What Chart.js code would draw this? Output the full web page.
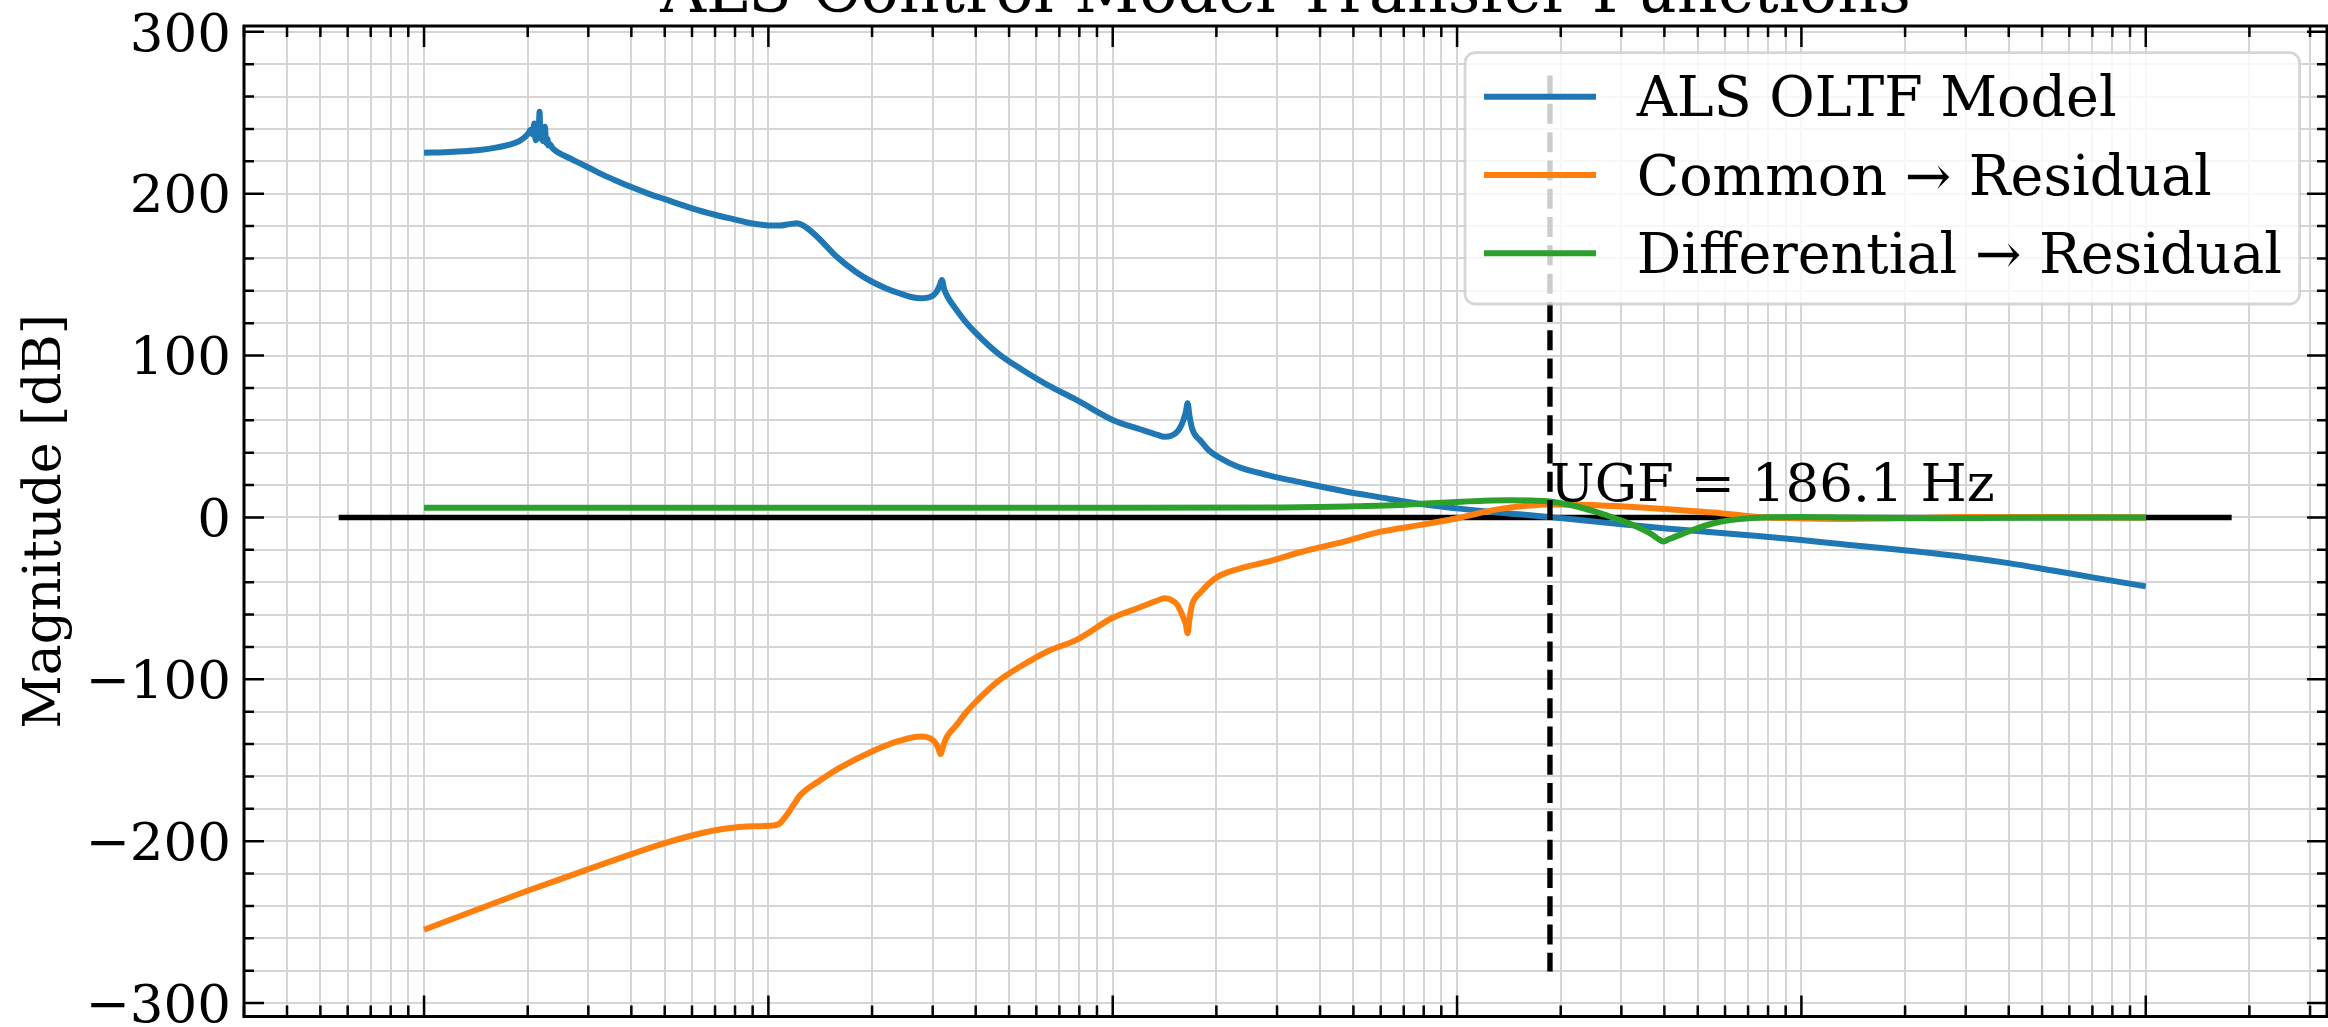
<!DOCTYPE html>
<html><head><meta charset="utf-8">
<script src="https://cdn.jsdelivr.net/npm/chart.js@4.4.1/dist/chart.umd.min.js"></script>
<style>html,body{margin:0;padding:0;background:#fff;overflow:hidden}canvas{display:block}</style>
</head><body>
<canvas id="c" width="2328" height="1027"></canvas>
<script>
// ---------------- data ----------------
const chartTitle = 'ALS Control Model Transfer Functions';
const yAxisTitle = 'Magnitude [dB]';
const seriesLabels = ['ALS OLTF Model', 'Common \u2192 Residual', 'Differential \u2192 Residual'];

const oltfFreq = [0.1,0.115,0.13,0.145,0.16,0.172,0.182,0.19,0.196,0.201,0.204,0.207,0.209,0.211,0.213,0.215,0.2165,0.218,0.22,0.2215,0.223,0.2245,0.226,0.228,0.2295,0.232,0.236,0.243,0.255,0.27,0.284,0.3,0.33,0.36,0.4,0.45,0.5,0.6,0.7,0.8,0.86,0.93,1.0,1.08,1.15,1.21,1.25,1.3,1.4,1.57,1.8,2.0,2.2,2.4,2.6,2.77,2.9,3.0,3.08,3.14,3.19,3.24,3.32,3.51,3.75,4.0,4.35,4.7,5.5,6.5,7.85,10,12,13.5,14.1,14.8,15.4,15.9,16.3,16.5,16.7,17.0,17.4,17.9,19,20.2,23,28.2,35,47,60,78.6,100,131,160,186.1,220,260,330,405,550,733,1000,1300,1618,2200,3050,4000,5310,7000,10000];
const oltfMag = [225.3,225.6,226.2,227.0,228.3,229.6,231.1,232.8,234.8,237.3,239.5,236.5,243.4,233.0,240.5,236.0,250.6,234.0,239.5,232.5,237.0,241.3,231.5,234.0,229.8,230.5,228.2,225.9,223.6,221.0,218.7,216.2,211.8,208.2,204.1,199.9,196.6,191.0,187.0,184.0,182.4,181.1,180.4,180.3,181.2,181.7,180.8,178.5,172.5,161.5,151.5,145.6,141.5,138.5,136.2,135.4,135.8,137.0,139.5,143.0,146.7,141.0,136.0,128.5,120.5,114.0,106.5,100.4,90.8,81.6,72.6,60.2,54.5,51.0,49.9,50.5,53.0,58.0,65.0,70.5,63.0,55.0,50.5,47.9,41.5,37.5,31.5,26.2,21.8,16.2,12.4,8.3,5.6,3.0,1.5,0.2,-1.3,-2.9,-5.0,-6.8,-9.2,-11.3,-14.0,-16.4,-18.4,-21.2,-24.7,-28.2,-32.6,-37.0,-42.6];

const commonFreq = [0.1,0.15,0.197,0.3,0.4,0.5,0.6,0.7,0.8,0.9,1.0,1.07,1.12,1.18,1.24,1.4,1.6,2.05,2.4,2.77,2.95,3.05,3.12,3.16,3.22,3.3,3.51,3.75,4.0,4.35,4.7,5.5,6.5,7.85,10,12,13.5,14.1,14.8,15.4,15.9,16.3,16.5,16.7,17.0,17.4,17.9,19,20.2,23,28.2,35,47,60,68.3,78.6,100,131,160,186.1,230,333,450,556,733,1000,1327,2000,3000,5000,10000];
const commonMag = [-254.7,-240.5,-231.1,-217.3,-208.0,-201.2,-196.5,-193.2,-191.5,-190.8,-190.5,-189.5,-185.0,-178.0,-171.4,-163.0,-155.0,-143.5,-138.0,-135.4,-136.5,-139.0,-143.0,-146.2,-141.0,-135.5,-128.5,-120.5,-114.0,-106.5,-100.4,-91.0,-82.5,-75.6,-62.0,-55.5,-51.3,-49.9,-51.0,-54.0,-60.0,-66.0,-71.5,-63.0,-54.0,-49.5,-46.8,-41.0,-36.6,-32.0,-27.3,-21.5,-14.9,-8.8,-6.7,-4.6,-0.5,5.0,7.2,8.0,7.8,6.3,4.5,3.0,0.5,-0.6,-0.9,-0.5,0.2,0.2,0.0];

const diffFreq = [0.1,1,10,30,39.4,50,68.3,78.6,100,120,141.6,165,186.1,210,230,252,290,333,365,385,397,415,456,500,556,650,794,1000,1327,2404,4000,10000];
const diffMag = [6.0,6.0,6.0,6.2,6.4,6.9,7.7,8.5,9.6,10.3,10.6,10.4,9.9,8.0,6.0,3.6,-0.8,-5.7,-10.0,-13.5,-14.9,-13.2,-9.8,-6.5,-3.6,-1.2,0.1,0.3,0.0,-0.5,-0.2,0.0];

const zeroLineFreq = [0.0565, 17760];
const zeroLineMag = [0, 0];

const ugfFreq = 186.1;
const ugfLineMag = [273, -280.5];
const ugfLabel = 'UGF = 186.1 Hz';
const ugfLabelMag = 10;

const xRange = [0.03, 33600];
const yRange = [-308.3, 303.6];
const yStep = 20;
const yLabelStep = 100;

// ---------------- helpers ----------------
const FONT = "'DejaVu Serif', serif";
const COLORS = ['#1f77b4', '#ff7f0e', '#2ca02c'];
const LW = 6;
const pts = (fs, ms) => fs.map((f, i) => ({x: f, y: ms[i]}));
const isDecade = v => Math.abs(Math.log10(v) - Math.round(Math.log10(v))) < 1e-9;

function logTicks(min, max) {
  const out = [];
  for (let e = Math.floor(Math.log10(min)); e <= Math.ceil(Math.log10(max)); e++) {
    for (let m = 1; m <= 9; m++) {
      const v = +(m * Math.pow(10, e)).toPrecision(6);
      if (v >= min * 0.9999 && v <= max * 1.0001) out.push(v);
    }
  }
  return out;
}
function linTicks(min, max, step) {
  const out = [];
  for (let v = Math.ceil(min / step) * step; v <= max + 1e-9; v += step) out.push(v);
  return out;
}
const xTickValues = logTicks(xRange[0], xRange[1]);
const yTickValues = linTicks(yRange[0], yRange[1], yStep);
const fmt = v => (v < 0 ? '\u2212' + Math.abs(v) : String(v));
const zeroPad = s => { s.paddingTop = 0; s.paddingBottom = 0; s.paddingLeft = 0; s.paddingRight = 0; };

const decor = {
  id: 'decor',
  afterDatasetsDraw(chart) {
    const {ctx, chartArea: a, scales: {x, y}} = chart;
    ctx.save();
    // UGF label
    ctx.fillStyle = '#000';
    ctx.font = `53px ${FONT}`;
    ctx.textAlign = 'left';
    ctx.textBaseline = 'alphabetic';
    ctx.fillText(ugfLabel, x.getPixelForValue(ugfFreq), y.getPixelForValue(ugfLabelMag));

    // inward ticks on all four sides
    ctx.strokeStyle = '#000';
    ctx.lineWidth = 2.5;
    ctx.beginPath();
    xTickValues.forEach(v => {
      const px = x.getPixelForValue(v);
      const L = isDecade(v) ? 21 : 11;
      ctx.moveTo(px, a.bottom); ctx.lineTo(px, a.bottom - L);
      ctx.moveTo(px, a.top); ctx.lineTo(px, a.top + L);
    });
    yTickValues.forEach(v => {
      const py = y.getPixelForValue(v);
      const L = (Math.abs(v % yLabelStep) < 1e-9) ? 20 : 10;
      ctx.moveTo(a.left, py); ctx.lineTo(a.left + L, py);
      ctx.moveTo(a.right, py); ctx.lineTo(a.right - L, py);
    });
    ctx.stroke();
    // spines
    ctx.lineWidth = 3;
    ctx.strokeRect(a.left, a.top, a.right - a.left, a.bottom - a.top);

    // legend
    const bw = 834.6, bh = 251.3;
    const bx = a.right - 27.4 - bw, by = a.top + 26.7;
    ctx.beginPath();
    ctx.roundRect(bx, by, bw, bh, 10);
    ctx.fillStyle = 'rgba(255,255,255,0.8)';
    ctx.fill();
    ctx.strokeStyle = 'rgba(204,204,204,0.8)';
    ctx.lineWidth = 2.8;
    ctx.stroke();
    ctx.font = `55.5px ${FONT}`;
    ctx.fillStyle = '#000';
    ctx.textBaseline = 'alphabetic';
    seriesLabels.forEach((lab, i) => {
      const ry = by + 44 + i * 78.3;
      ctx.strokeStyle = COLORS[i];
      ctx.lineWidth = LW;
      ctx.beginPath();
      ctx.moveTo(bx + 19, ry); ctx.lineTo(bx + 131, ry);
      ctx.stroke();
      ctx.fillText(lab, bx + 171.7, ry + 19.5);
    });

    // title (partly outside the figure, as in the reference)
    ctx.font = `63.5px ${FONT}`;
    ctx.textAlign = 'center';
    ctx.fillText(chartTitle, (a.left + a.right) / 2, 12.3);
    ctx.restore();
  }
};

new Chart(document.getElementById('c'), {
  type: 'line',
  data: {
    datasets: [
      {label: seriesLabels[0], data: pts(oltfFreq, oltfMag), borderColor: COLORS[0], borderWidth: LW, order: 3, cubicInterpolationMode: 'monotone'},
      {label: seriesLabels[1], data: pts(commonFreq, commonMag), borderColor: COLORS[1], borderWidth: LW, order: 2, cubicInterpolationMode: 'monotone'},
      {label: seriesLabels[2], data: pts(diffFreq, diffMag), borderColor: COLORS[2], borderWidth: LW, order: 1, cubicInterpolationMode: 'monotone'},
      {label: 'zero', data: pts(zeroLineFreq, zeroLineMag), borderColor: '#000', borderWidth: 5.4, order: 4},
      {label: 'ugf', data: pts([ugfFreq, ugfFreq], ugfLineMag), borderColor: '#000', borderWidth: 5.4, borderDash: [20, 8.3], order: 0}
    ]
  },
  options: {
    responsive: false,
    devicePixelRatio: 1,
    animation: false,
    layout: {autoPadding: false, padding: {top: 26, right: 1, bottom: 0, left: 0}},
    elements: {point: {radius: 0, hoverRadius: 0}, line: {borderCapStyle: 'butt', borderJoinStyle: 'round', fill: false}},
    plugins: {legend: {display: false}, title: {display: false}, tooltip: {enabled: false}},
    events: [],
    scales: {
      x: {
        type: 'logarithmic', min: xRange[0], max: xRange[1],
        afterBuildTicks: s => { s.ticks = xTickValues.map(v => ({value: v})); },
        afterFit: s => { s.height = 10.5; zeroPad(s); },
        ticks: {display: false},
        grid: {color: '#d5d5d5', lineWidth: 2, drawTicks: false},
        border: {display: false}
      },
      y: {
        type: 'linear', min: yRange[0], max: yRange[1],
        afterBuildTicks: s => { s.ticks = yTickValues.map(v => ({value: v})); },
        afterFit: s => { s.width = 244; zeroPad(s); },
        ticks: {
          autoSkip: false, padding: 13, labelOffset: 5, color: '#000',
          font: {family: FONT, size: 53},
          callback: v => (Math.abs(v % yLabelStep) < 1e-9 ? fmt(v) : '')
        },
        title: {display: true, text: yAxisTitle, color: '#000', font: {family: FONT, size: 52}, padding: {top: 15, bottom: 0}},
        grid: {color: '#d5d5d5', lineWidth: 2, drawTicks: false},
        border: {display: false}
      }
    }
  },
  plugins: [decor]
});
</script>
</body></html>
